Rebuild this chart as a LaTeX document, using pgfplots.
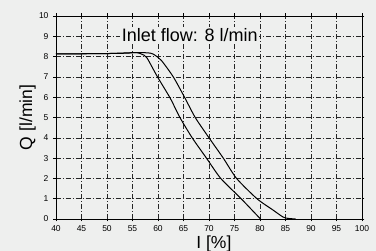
\documentclass[border=0pt]{standalone}
\usepackage{pgfplots}
\pgfplotsset{compat=1.18}
\usepackage{fontspec}
\setmainfont{Liberation Sans}
\definecolor{bg}{RGB}{238,239,238}
\begin{document}
\begin{tikzpicture}
\clip (0,0) rectangle (376pt,251pt);
\fill[bg] (0,0) rectangle (376pt,251pt);
\begin{axis}[
  at={(56pt,32pt)}, anchor=south west,
  scale only axis, width=306pt, height=203pt,
  xmin=40, xmax=100, ymin=0, ymax=10,
  xtick={40,45,...,100}, ytick={0,1,...,10},
  /pgf/number format/assume math mode=true,
  tick label style={font=\fontsize{8.5}{9}\selectfont},
  xticklabel style={yshift=-1pt},
  yticklabel style={xshift=-1.5pt},
  tick align=outside, major tick length=2.5pt,
  tick style={black, line width=0.5pt},
  axis line style={black, line width=0.9pt},
  grid=major,
  major grid style={black!85, line width=0.5pt, dash pattern=on 5pt off 2pt on 1pt off 2pt},
  axis background/.style={fill=bg},
  xlabel={I [\%]}, ylabel={Q [l/min]},
  label style={font=\fontsize{17.5}{18}\selectfont},
  xlabel style={at={(axis description cs:0.516,-0.143)}, anchor=base},
  ylabel style={at={(axis description cs:-0.078,0.5)}, anchor=base},
  clip=false,
]
\node[anchor=base west, font=\fontsize{18}{18}\selectfont, inner sep=1.5pt, fill=bg] at (axis cs:52.6,8.73) {Inlet flow: 8 l/min};
\addplot[black, line width=1.0pt, smooth, tension=0.4] coordinates {
(40,8.13)(45,8.14)(50,8.15)(54,8.17)(55.8,8.2)(56.8,8.12)(57.8,7.95)(59.9,7.0)(62.4,5.95)(64.3,5.0)(66.7,4.0)(69.5,3.0)(72.3,2.0)(76.3,1.0)(80.1,0)
};
\addplot[black, line width=1.0pt, smooth, tension=0.4] coordinates {
(40,8.13)(50,8.15)(56,8.2)(58.5,8.17)(59.4,8.07)(60.7,7.8)(63,7.0)(65.2,6.0)(67.3,5.0)(70,4.0)(72.8,3.0)(75.4,2.0)(79.4,1.0)(82.5,0.45)(84.5,0.1)(85.5,0.03)(87,0)
};
\end{axis}
\end{tikzpicture}
\end{document}
